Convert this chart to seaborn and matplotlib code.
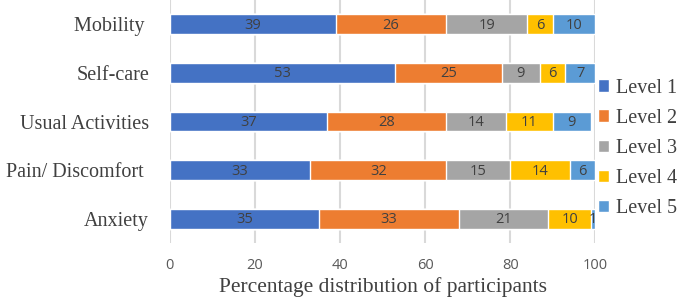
import numpy as np
import pandas as pd
import matplotlib
matplotlib.use("Agg")
import matplotlib.pyplot as plt
import seaborn as sns

categories = ["Mobility ", "Self-care", "Usual Activities", "Pain/ Discomfort ", "Anxiety"]
levels = ["Level 1", "Level 2", "Level 3", "Level 4", "Level 5"]
level1 = [39, 53, 37, 33, 35]
level2 = [26, 25, 28, 32, 33]
level3 = [19, 9, 14, 15, 21]
level4 = [6, 6, 11, 14, 10]
level5 = [10, 7, 9, 6, 1]
colors = ["#4472C4", "#ED7D31", "#A5A5A5", "#FFC000", "#5B9BD5"]

df = pd.DataFrame({"cat": categories, "Level 1": level1, "Level 2": level2,
                   "Level 3": level3, "Level 4": level4, "Level 5": level5})
cum = df[levels].cumsum(axis=1)

sns.set_style("white")
serif = ["Liberation Serif", "DejaVu Serif"]
sans = ["Open Sans", "DejaVu Sans"]

fig = plt.figure(figsize=(6.85, 3.03), dpi=100)
ax = fig.add_axes([0.248, 0.198, 0.621, 0.802])

# stacked bars: draw cumulative totals from the outermost level inwards
for lvl, col in reversed(list(zip(levels, colors))):
    sns.barplot(x=cum[lvl], y=df["cat"], color=col, width=0.41,
                orient="h", ax=ax, label=lvl, saturation=1, zorder=3)

# segment labels
for i in range(len(categories)):
    start = 0
    for lvl in levels:
        v = df.loc[i, lvl]
        ax.text(start + v / 2, i + 0.02, str(v), ha="center", va="center",
                fontsize=10.5, color="#404040", family=sans, zorder=4)
        start += v

ax.set_xlim(0, 100)
ax.set_ylim(len(categories) - 0.5, -0.5)
ax.set_xticks(range(0, 101, 20))
ax.grid(axis="x", color="#D9D9D9", linewidth=1.5, zorder=0)
for s in ax.spines.values():
    s.set_visible(False)
ax.tick_params(axis="both", length=0)
ax.tick_params(axis="x", pad=11)
ax.tick_params(axis="y", pad=15)
for t in ax.get_xticklabels():
    t.set_family(sans)
    t.set_fontsize(10.5)
    t.set_color("#595959")
for t in ax.get_yticklabels():
    t.set_family(serif)
    t.set_fontsize(14.5)
    t.set_color("#404040")
ax.set_ylabel("")
ax.set_xlabel("Percentage distribution of participants", family=serif,
              fontsize=15.5, color="#404040", labelpad=3)

handles, labels = ax.get_legend_handles_labels()
order = [labels.index(l) for l in levels]
leg = ax.legend([handles[k] for k in order], levels, loc="center left",
                bbox_to_anchor=(1.0, 0.39), frameon=False,
                prop={"family": serif, "size": 14.5}, handlelength=0.55,
                handleheight=0.55, handletextpad=0.35, labelspacing=0.55,
                borderaxespad=0.0, borderpad=0.15)
for t in leg.get_texts():
    t.set_color("#404040")

fig.savefig("out.png", dpi=100)
